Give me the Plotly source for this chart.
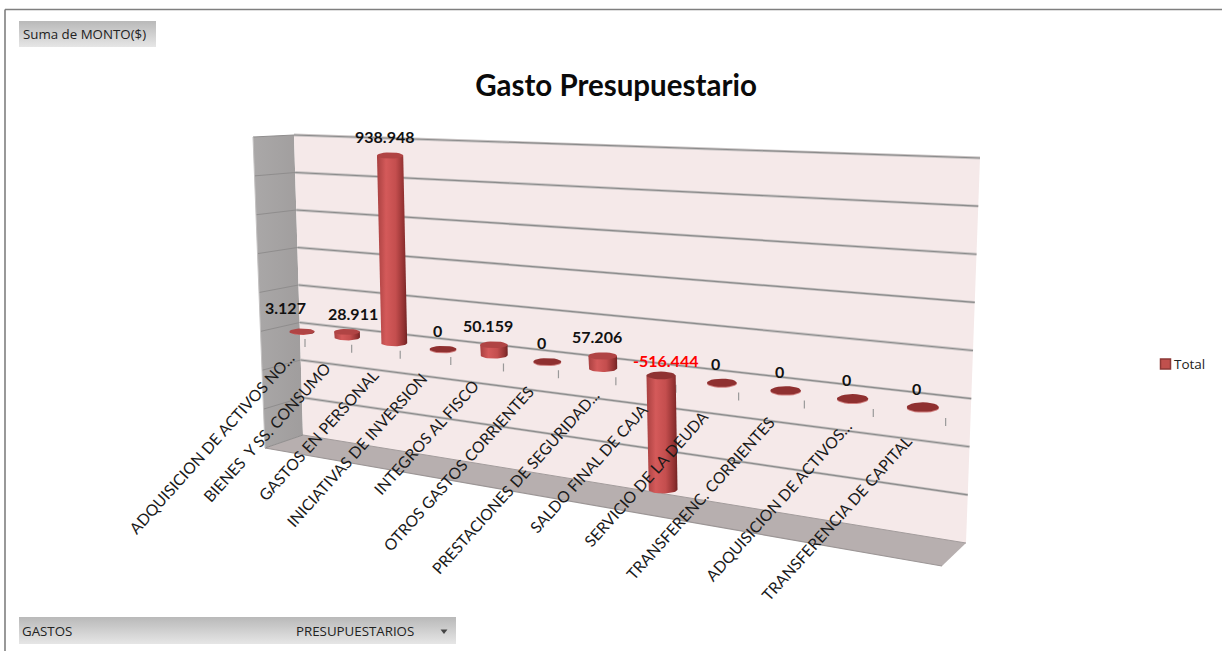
import math
import plotly.graph_objects as go

# ---------- data ----------
categories = ["ADQUISICION DE ACTIVOS NO...", "BIENES \u00a0Y SS. CONSUMO", "GASTOS EN PERSONAL",
              "INICIATIVAS DE INVERSION", "INTEGROS AL FISCO", "OTROS GASTOS CORRIENTES",
              "PRESTACIONES DE SEGURIDAD...", "SALDO FINAL DE CAJA", "SERVICIO DE LA DEUDA",
              "TRANSFERENC. CORRIENTES", "ADQUISICION DE ACTIVOS...", "TRANSFERENCIA DE CAPITAL"]
values = [3127, 28911, 938948, 0, 50159, 0, 57206, -516444, 0, 0, 0, 0]
grid_levels = [-600000, -400000, -200000, 0, 200000, 400000, 600000, 800000, 1000000]
series_name = "Total"

# ---------- perspective scale (category index, value) -> page pixel ----------
def project(t, v):
    v = v / 1e6
    d = -0.01966 * t - 0.00385 * v + 1
    return (38.3 * t - 5.6 * v + 302) / d, (-1.18 * t - 192.5 * v + 332) / d

def depth(t):
    return 1 - 0.01966 * t

def tick_at(t):
    d = 1 - 0.0195 * t
    return (39.8 * t + 305) / d, (-1.05 * t + 343) / d

WALL_TOP = ((294, 135), (980, 158))
WALL_BOT = ((303, 435), (966, 543))
SIDE_TOP, SIDE_BOT = (253, 137), (265, 448)
FLOOR_FR = (942, 566)

def lerp(a, b, s):
    return a[0] + (b[0] - a[0]) * s, a[1] + (b[1] - a[1]) * s

def wall_pts(level):
    s = (1000000 - level) / 1600000
    return lerp(WALL_TOP[0], WALL_BOT[0], s), lerp(WALL_TOP[1], WALL_BOT[1], s), lerp(SIDE_TOP, SIDE_BOT, s)

fig = go.Figure()

def poly(pts, color=None, gradient=None, line=None, lw=0):
    xs = [p[0] for p in pts] + [pts[0][0]]
    ys = [p[1] for p in pts] + [pts[0][1]]
    kw = dict(x=xs, y=ys, mode="lines", fill="toself", showlegend=False, hoverinfo="skip",
              line=dict(width=lw, color=line or "rgba(0,0,0,0)"))
    if gradient:
        kw["fillgradient"] = gradient
    else:
        kw["fillcolor"] = color
    fig.add_trace(go.Scatter(**kw))

def seg(a, b, color, w):
    fig.add_trace(go.Scatter(x=[a[0], b[0]], y=[a[1], b[1]], mode="lines", showlegend=False,
                             hoverinfo="skip", line=dict(color=color, width=w)))

# frame
seg((5, 651), (5, 9.5), "#7f7f7f", 1.6)
seg((5, 9.5), (1222, 9.5), "#7f7f7f", 1.6)

# walls and floor
poly([SIDE_TOP, WALL_TOP[0], WALL_BOT[0], SIDE_BOT],
     gradient=dict(type="horizontal", colorscale=[[0, "#aaa8a8"], [1, "#a09d9d"]]))
poly([WALL_TOP[0], WALL_TOP[1], WALL_BOT[1], WALL_BOT[0]], color="#f5e9e9")
poly([SIDE_BOT, WALL_BOT[0], WALL_BOT[1], FLOOR_FR], color="#b7afaf")
seg(SIDE_BOT, FLOOR_FR, "#9c9696", 1.2)
seg(WALL_BOT[0], WALL_BOT[1], "#a39c9c", 1.0)

for lev in grid_levels:
    l, r, o = wall_pts(lev)
    seg(o, l, "#8f8d8d", 1.0)
    if lev > grid_levels[0]:
        seg(l, r, "#c9c4c4", 2.8)
        seg(l, r, "#8c8c8c", 1.2)
seg(SIDE_TOP, SIDE_BOT, "#c4c2c2", 1)

# ticks
for i in range(len(categories)):
    x, y = tick_at(i)
    seg((x, y - 4), (x, y + 4), "#999999", 1.2)

# bars
BODY = [[0, "#a84040"], [0.3, "#d45a5a"], [0.62, "#c44e4e"], [0.9, "#8f3030"], [1, "#702323"]]

def arc(c, rx, ry, a0, a1, n=24):
    return [(c[0] + rx * math.cos(a0 + (a1 - a0) * k / n), c[1] + ry * math.sin(a0 + (a1 - a0) * k / n))
            for k in range(n + 1)]

for i, v in enumerate(values):
    rx = 12.6 / depth(i)
    ry = 2.9 / depth(i) ** 2
    hi, lo = project(i, max(v, 0)), project(i, min(v, 0))
    if v != 0:
        body = [(hi[0] - rx, hi[1])] + arc(lo, rx, ry, math.pi, 0.0) + [(hi[0] + rx, hi[1])]
        poly(body, gradient=dict(type="horizontal", colorscale=BODY))
        top = "#b04444" if v > 0 else "#8f3333"
    else:
        poly(arc((hi[0], hi[1] + 1.0), rx, ry, 0, 2 * math.pi), color="#cf7f7f")
        top = "#8f3030"
    poly(arc(hi, rx, ry, 0, 2 * math.pi), color=top)

# legend entry
LEG_X, LEG_Y = 1165.5, 364
fig.add_trace(go.Scatter(x=[LEG_X], y=[LEG_Y], mode="markers", showlegend=False, hoverinfo="skip",
                         marker=dict(symbol="square", size=10, color="#c0504d",
                                     line=dict(color="#8c3836", width=1.5))))
fig.add_annotation(x=LEG_X + 6.5, y=LEG_Y, text=series_name, showarrow=False, xanchor="left", yanchor="middle",
                   font=dict(family="Open Sans", size=13.5, color="#222222"))

# pivot buttons
VERT = [[0, "#e6e6e6"], [1, "#b9b9b9"]]
for box in [((19, 21), (156, 47)), ((19, 617), (456, 644))]:
    (x0, y0), (x1, y1) = box
    poly([(x0, y0), (x1, y0), (x1, y1), (x0, y1)],
         gradient=dict(type="vertical", colorscale=VERT))
fig.add_trace(go.Scatter(x=[444], y=[631], mode="markers", showlegend=False, hoverinfo="skip",
                         marker=dict(symbol="triangle-down", size=6, color="#444444")))

# ---------- text ----------
LBL_SHIFT = {0: (-16, -24), 1: (6, -18), 7: (4, -15)}
DEFAULT_SHIFT = (-6, -19)
for i, v in enumerate(values):
    p = project(i, max(v, 0))
    dx, dy = LBL_SHIFT.get(i, DEFAULT_SHIFT)
    fig.add_annotation(x=p[0] + dx, y=p[1] + dy, text=f"<b>{v:,}</b>".replace(",", "."), showarrow=False,
                       font=dict(family="Lato", size=16, color="#ff0000" if v < 0 else "#111111"),
                       xanchor="center", yanchor="middle")

CAT_OFFSET = [(-4.5, 3), (-14.5, 8), (-15.5, 9), (-17.5, 6), (-18, 6.5), (-19, 6),
              (-10.5, 2), (-21.5, 8), (-24.5, 8), (-23.5, 5.5), (-15.5, 1), (-27.5, 7)]
for i, name in enumerate(categories):
    x, y = tick_at(i)
    dx, dy = CAT_OFFSET[i]
    fig.add_annotation(x=x + dx, y=y + dy, text=name, showarrow=False, textangle=-48,
                       font=dict(family="Lato", size=15.7, color="#1a1a1a"),
                       xanchor="right", yanchor="top")

for x, y, t in [(21, 34, "Suma de MONTO($)"), (20, 631, "GASTOS"), (294, 631, "PRESUPUESTARIOS")]:
    fig.add_annotation(x=x, y=y, text=t, showarrow=False, xanchor="left", yanchor="middle",
                       font=dict(family="Open Sans", size=13.3, color="#222222"))

fig.update_layout(
    width=1222, height=651, margin=dict(l=0, r=0, t=0, b=0, pad=0, autoexpand=False),
    paper_bgcolor="white", plot_bgcolor="white",
    title=dict(text="<b>Gasto Presupuestario</b>", x=616 / 1222, y=1 - 86 / 651, xanchor="center", yanchor="middle",
               font=dict(family="Lato", size=29.5, color="#0a0a0a")),
    xaxis=dict(range=[0, 1222], visible=False, fixedrange=True),
    yaxis=dict(range=[651, 0], visible=False, fixedrange=True),
    showlegend=False,
)
fig.write_html("out.html", config=dict(displayModeBar=False),
               post_script="document.body.style.margin='0';")
